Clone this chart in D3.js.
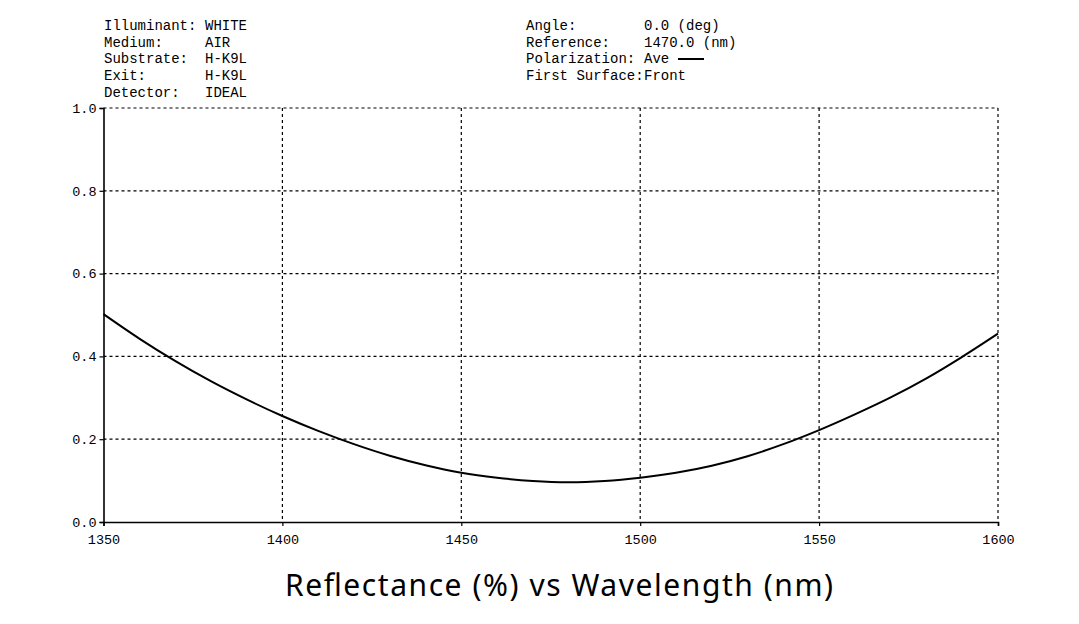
<!DOCTYPE html>
<html><head><meta charset="utf-8">
<script src="https://cdn.jsdelivr.net/npm/d3@7"></script>
<style>
html,body{margin:0;padding:0;background:#fff;}
svg{display:block;}
</style></head>
<body>
<svg id="chart" width="1079" height="624"></svg>
<script>
const wavelengths = [1350,1360,1370,1380,1390,1400,1410,1420,1430,1440,1450,1460,1470,1480,1490,1500,1510,1520,1530,1540,1550,1560,1570,1580,1590,1600];
const reflectance = [0.502,0.443,0.389,0.340,0.296,0.256,0.220,0.188,0.160,0.137,0.119,0.107,0.099,0.096,0.099,0.107,0.119,0.136,0.159,0.188,0.222,0.260,0.301,0.347,0.399,0.455];
const xTicks = [1350,1400,1450,1500,1550,1600];
const yTicks = [0,0.2,0.4,0.6,0.8,1.0];
const headerLeft = [["Illuminant:","WHITE"],["Medium:","AIR"],["Substrate:","H-K9L"],["Exit:","H-K9L"],["Detector:","IDEAL"]];
const headerRight = [["Angle:","0.0 (deg)"],["Reference:","1470.0 (nm)"],["Polarization:","Ave"],["First Surface:","Front"]];
const title = "Reflectance (%) vs Wavelength (nm)";

const svg = d3.select("#chart");
const mono = "'Courier New','Liberation Mono',monospace";
const L=103.5, R=998, T=108, B=522;
const x = d3.scaleLinear().domain([1350,1600]).range([L,R]);
const y = d3.scaleLinear().domain([0,1]).range([B,T]);

// grid
const g = svg.append("g");
g.selectAll(".vg").data(xTicks.slice(1)).enter().append("line")
  .attr("x1",d=>x(d)).attr("x2",d=>x(d)).attr("y1",T).attr("y2",B)
  .attr("stroke","#000").attr("stroke-width",1.2).attr("stroke-dasharray","3,3");
g.selectAll(".hg").data(yTicks.slice(1)).enter().append("line")
  .attr("x1",L).attr("x2",R).attr("y1",d=>y(d)).attr("y2",d=>y(d))
  .attr("stroke","#000").attr("stroke-width",1.2).attr("stroke-dasharray","3,3");

// axes
const xAxis = d3.axisBottom(x).tickValues(xTicks).tickSize(4).tickPadding(8).tickFormat(d3.format("d"));
const yAxis = d3.axisLeft(y).tickValues(yTicks).tickSize(4).tickPadding(3).tickFormat(d3.format(".1f"));
const gx = svg.append("g").attr("transform",`translate(0,${B})`).call(xAxis);
const gy = svg.append("g").attr("transform",`translate(${L},0)`).call(yAxis);
[gx,gy].forEach(a=>{
  a.select(".domain").attr("stroke","#000").attr("stroke-width",1.6);
  a.selectAll(".tick line").attr("stroke","#000").attr("stroke-width",1.2);
  a.selectAll(".tick text").attr("fill","#000").style("font-family",mono).style("font-size","13.5px");
});

// curve
const line = d3.line().x((d,i)=>x(wavelengths[i])).y(d=>y(d)).curve(d3.curveMonotoneX);
svg.append("path").datum(reflectance).attr("d",line)
  .attr("fill","none").attr("stroke","#000").attr("stroke-width",2);

// header texts
const hl = svg.append("g").style("font-family",mono).style("font-size","14px").attr("fill","#000");
headerLeft.forEach((r,i)=>{
  hl.append("text").attr("x",104).attr("y",30+i*16.7).text(r[0]);
  hl.append("text").attr("x",205).attr("y",30+i*16.7).text(r[1]);
});
headerRight.forEach((r,i)=>{
  hl.append("text").attr("x",526).attr("y",30+i*16.7).text(r[0]);
  hl.append("text").attr("x",644).attr("y",30+i*16.7).text(r[1]);
});
svg.append("line").attr("x1",678).attr("x2",704).attr("y1",59).attr("y2",59).attr("stroke","#000").attr("stroke-width",2);

// title
svg.append("text").attr("x",285).attr("y",596)
  .attr("textLength",548).attr("lengthAdjust","spacing")
  .style("font-family","'Noto Sans','Open Sans',sans-serif").style("font-size","30px").attr("fill","#000")
  .text(title);
</script>
</body></html>
